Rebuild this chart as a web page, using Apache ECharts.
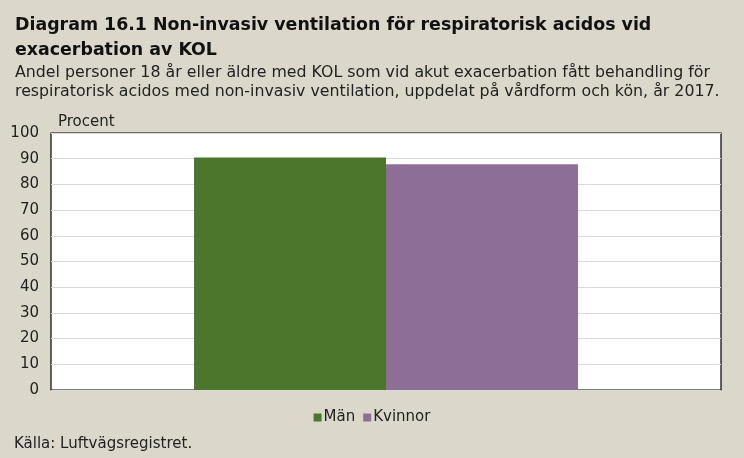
<!DOCTYPE html>
<html><head><meta charset="utf-8">
<script src="https://cdn.jsdelivr.net/npm/echarts@6/dist/echarts.min.js"></script>
<style>html,body{margin:0;padding:0;background:#dbd8cb;}#c{width:744px;height:458px;}</style>
</head><body><div id="c"></div>
<script>
const categories = [''];
const manValues = [90.5];
const kvinnorValues = [87.8];
const seriesNames = ['Män', 'Kvinnor'];
const yTicks = {min: 0, max: 100, interval: 10};

const font = 'DejaVu Sans';
const chart = echarts.init(document.getElementById('c'));
chart.setOption({
  backgroundColor: '#dbd8cb',
  animation: false,
  title: {
    text: 'Diagram 16.1 Non-invasiv ventilation för respiratorisk acidos vid\nexacerbation av KOL',
    subtext: 'Andel personer 18 år eller äldre med KOL som vid akut exacerbation fått behandling för\nrespiratorisk acidos med non-invasiv ventilation, uppdelat på vårdform och kön, år 2017.',
    left: 10, top: 8, itemGap: 0,
    textStyle: {fontFamily: font, fontWeight: 'bold', fontSize: 17.4, color: '#111', lineHeight: 25},
    subtextStyle: {fontFamily: font, fontSize: 15.8, color: '#222', lineHeight: 19}
  },
  legend: {
    data: seriesNames, bottom: 28, left: 'center', itemWidth: 8, itemHeight: 8, itemGap: 8,
    icon: 'rect',
    textStyle: {fontFamily: font, fontSize: 15, color: '#222', padding: [0,0,0,-3]}
  },
  graphic: [{
    type: 'text', left: 14, top: 437,
    style: {text: 'Källa: Luftvägsregistret.', font: '15px "DejaVu Sans"', fill: '#222'}
  }],
  grid: {left: 51, right: 23, top: 133, bottom: 68, show: true, backgroundColor: '#fff', borderColor: '#000', borderWidth: 1.2},
  xAxis: {type: 'category', data: categories, axisLine: {show: false}, axisTick: {show: false}, axisLabel: {show: false}},
  yAxis: {
    type: 'value', min: yTicks.min, max: yTicks.max, interval: yTicks.interval,
    name: 'Procent', nameLocation: 'end', nameGap: 3,
    nameTextStyle: {fontFamily: font, fontSize: 15, color: '#222', align: 'left', padding: [0,0,0,7]},
    axisLine: {show: false}, axisTick: {show: false},
    axisLabel: {fontFamily: font, fontSize: 15, color: '#222', margin: 12},
    splitLine: {lineStyle: {color: '#d9d9d9', width: 1}}
  },
  series: [
    {name: seriesNames[0], type: 'bar', data: manValues, itemStyle: {color: '#4b762c'}, barGap: '0%', barCategoryGap: '42.7%'},
    {name: seriesNames[1], type: 'bar', data: kvinnorValues, itemStyle: {color: '#8c6e96'}, barGap: '0%', barCategoryGap: '42.7%'}
  ]
});
</script></body></html>
